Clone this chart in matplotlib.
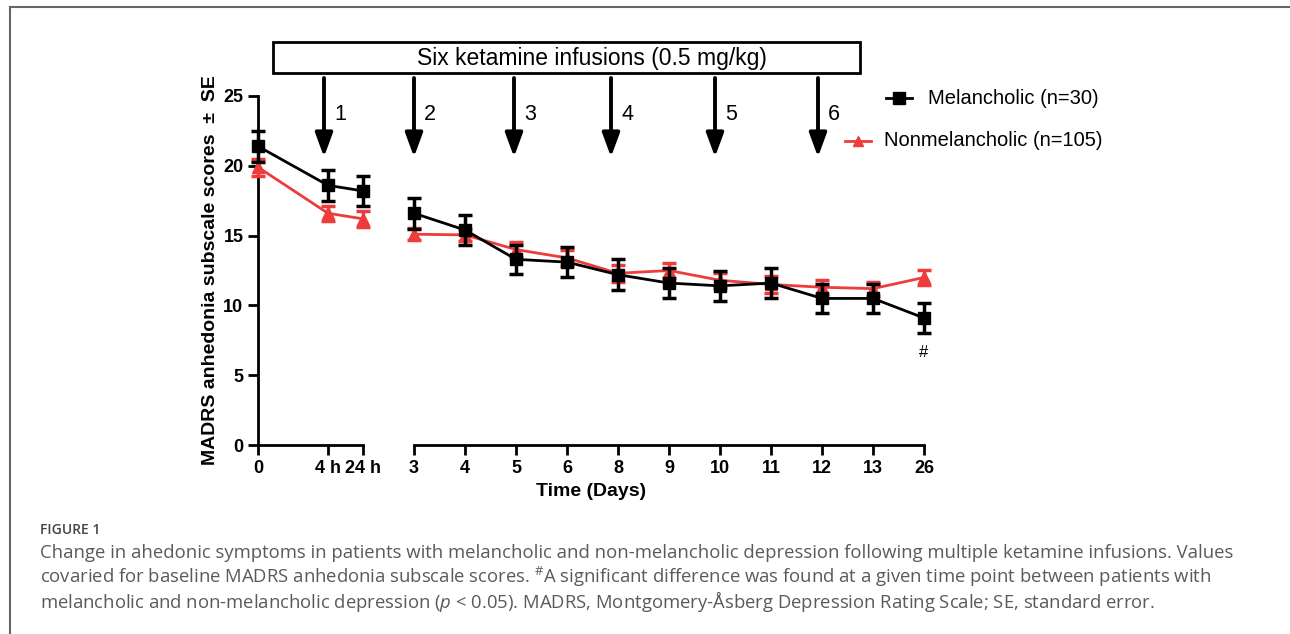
import matplotlib
matplotlib.use('Agg')
import matplotlib.pyplot as plt
from matplotlib.patches import Rectangle, FancyArrowPatch
from matplotlib.lines import Line2D

plt.rcParams['font.family'] = ['Liberation Sans', 'DejaVu Sans']
plt.rcParams['mathtext.fontset'] = 'custom'
plt.rcParams['mathtext.rm'] = 'Open Sans'
plt.rcParams['mathtext.it'] = 'Open Sans:italic'

# datos
horas = ['0', '4 h', '24 h']
dias = ['3', '4', '5', '6', '8', '9', '10', '11', '12', '13', '26']

mel_horas = [21.4, 18.6, 18.2]
mel_horas_se = [1.1, 1.1, 1.1]
mel_dias = [16.6, 15.4, 13.3, 13.1, 12.2, 11.6, 11.4, 11.6, 10.5, 10.5, 9.1]
mel_dias_se = [1.1, 1.1, 1.05, 1.05, 1.1, 1.05, 1.05, 1.05, 1.05, 1.05, 1.1]

non_horas = [19.9, 16.6, 16.2]
non_horas_se = [0.6, 0.55, 0.55]
non_dias = [15.1, 15.05, 14.0, 13.4, 12.3, 12.5, 11.8, 11.5, 11.3, 11.2, 12.0]
non_dias_se = [0.45, 0.45, 0.55, 0.6, 0.6, 0.55, 0.55, 0.6, 0.5, 0.5, 0.55]

infusiones = ['1', '2', '3', '4', '5', '6']
infusion_px = [324, 414, 514, 611, 715, 818]

ROJO = '#EE3B3B'
W, H = 1290, 634


def fx(px):
    return px / W


def fy(py):
    return 1 - py / H


fig = plt.figure(figsize=(12.9, 6.34), dpi=100)

# marco de la figura
fig.add_artist(Line2D([fx(9.5), fx(9.5)], [0, fy(7)], color='#666666', lw=1.5))
fig.add_artist(Line2D([fx(9.5), 1], [fy(7), fy(7)], color='#666666', lw=1.5))

base = fy(445)
alto = 349 / H
ax1 = fig.add_axes([fx(258), base, 105 / W, alto])
ax2 = fig.add_axes([fx(414), base, 510 / W, alto], sharey=ax1)

pos_h = [0, 70 / 51, 105 / 51]
pos_d = list(range(len(dias)))

estilo = dict(capsize=5, elinewidth=2.5, capthick=2.5, lw=2, clip_on=False)
for ax, pos, m, mse, n, nse in [(ax1, pos_h, mel_horas, mel_horas_se, non_horas, non_horas_se),
                                (ax2, pos_d, mel_dias, mel_dias_se, non_dias, non_dias_se)]:
    e = ax.errorbar(pos, n, yerr=nse, fmt='-^', color=ROJO, ms=8, zorder=3, **estilo)
    for a in e.lines[1] + e.lines[2]:
        a.set_clip_on(False)
    e = ax.errorbar(pos, m, yerr=mse, fmt='-s', color='black', ms=9, zorder=4, **estilo)
    for a in e.lines[1] + e.lines[2]:
        a.set_clip_on(False)

ax1.set_xlim(0, 105 / 51)
ax2.set_xlim(0, len(dias) - 1)
ax1.set_ylim(0, 25)
ax1.set_yticks([0, 5, 10, 15, 20, 25])
ax1.set_xticks(pos_h)
ax1.set_xticklabels(horas)
ax2.set_xticks(pos_d)
ax2.set_xticklabels(dias)

for ax in (ax1, ax2):
    ax.spines['top'].set_visible(False)
    ax.spines['right'].set_visible(False)
    ax.spines['left'].set_linewidth(2)
    ax.spines['bottom'].set_linewidth(2)
    ax.tick_params(width=2, length=7, labelsize=13)
    ax.patch.set_alpha(0)
    for t in ax.get_xticklabels() + ax.get_yticklabels():
        t.set_fontweight('bold')
ax2.spines['left'].set_visible(False)
ax2.tick_params(axis='y', left=False, labelleft=False)

ax1.set_ylabel('MADRS anhedonia subscale scores  \u00b1  SE', fontsize=14,
               fontweight='bold')
ax1.yaxis.set_label_coords(-0.37, 0.5)
fig.text(fx(591), fy(492), 'Time (Days)', fontsize=14, fontweight='bold',
         ha='center', va='center')

ax2.annotate('#', xy=(pos_d[-1], mel_dias[-1]), xytext=(0, -25),
             textcoords='offset points', ha='center', va='center', fontsize=12,
             annotation_clip=False)

# caja de las infusiones
fig.add_artist(Rectangle((fx(273), fy(73)), 587 / W, 31 / H, fill=False,
                         lw=2, ec='black', transform=fig.transFigure))
fig.text(fx(592), fy(58), 'Six ketamine infusions (0.5 mg/kg)', fontsize=16.5,
         ha='center', va='center')

for lab, px in zip(infusiones, infusion_px):
    fig.add_artist(FancyArrowPatch(
        (fx(px), fy(78)), (fx(px), fy(157)), transform=fig.transFigure,
        arrowstyle='-|>,head_length=0.6,head_width=0.22', mutation_scale=24,
        lw=2.8, color='black', shrinkA=0, shrinkB=0))
    fig.text(fx(px + 16), fy(115), lab, fontsize=15.5, ha='center', va='center')

# leyenda
fig.add_artist(Line2D([fx(886), fx(912)], [fy(98), fy(98)], color='black', lw=2))
fig.add_artist(Line2D([fx(899)], [fy(98)], color='black', marker='s', ms=8))
fig.text(fx(1099), fy(98), 'Melancholic (n=30)', fontsize=14.5, ha='right', va='center')
fig.add_artist(Line2D([fx(845), fx(871)], [fy(141), fy(141)], color=ROJO, lw=2))
fig.add_artist(Line2D([fx(858)], [fy(141)], color=ROJO, marker='^', ms=7))
fig.text(fx(1102), fy(141), 'Nonmelancholic (n=105)', fontsize=14.5, ha='right', va='center')

# pie de figura
fig.text(fx(40), fy(530), 'FIGURE 1', fontsize=10, color='#444444', va='center',
         family=['Open Sans', 'DejaVu Sans'], fontweight='semibold')
lineas = [
    'Change in ahedonic symptoms in patients with melancholic and non-melancholic depression following multiple ketamine infusions. Values',
    'covaried for baseline MADRS anhedonia subscale scores. $^{\\#}$A significant difference was found at a given time point between patients with',
    'melancholic and non-melancholic depression ($\\mathit{p}$ < 0.05). MADRS, Montgomery-\u00c5sberg Depression Rating Scale; SE, standard error.',
]
for i, txt in enumerate(lineas):
    fig.text(fx(40), fy(553 + 24 * i), txt, fontsize=13.3, color='#5a5a5a',
             va='center', family=['Open Sans', 'DejaVu Sans'])

plt.savefig('out.png', dpi=100)
